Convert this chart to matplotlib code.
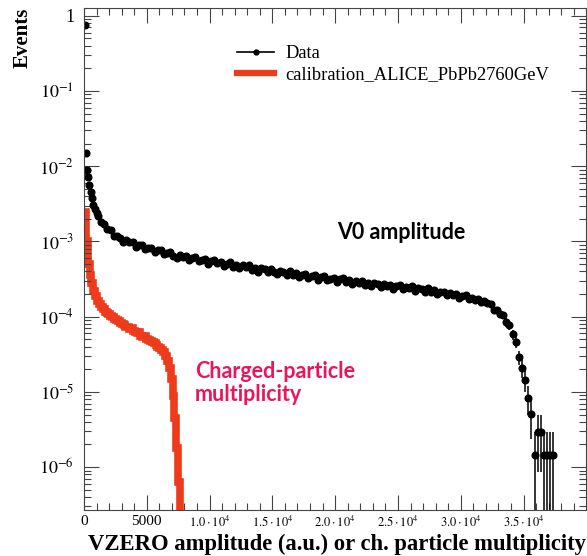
import numpy as np
import matplotlib
matplotlib.use("Agg")
import matplotlib.pyplot as plt
from matplotlib.lines import Line2D
from matplotlib.ticker import FixedLocator, MultipleLocator, LogLocator, NullFormatter

plt.rcParams["font.family"] = "serif"
plt.rcParams["font.serif"] = ["Liberation Serif", "DejaVu Serif"]
plt.rcParams["mathtext.fontset"] = "stix"

# --- data ---
# V0 amplitude, first bins (finer)
head_x = [100, 160, 260, 340, 420, 530, 610, 735, 860, 1000]
head_y = [0.76, 1.52e-2, 8.9e-3, 7.1e-3, 5.6e-3, 4.6e-3, 3.8e-3, 3.1e-3, 2.7e-3, 2.4e-3]

# V0 amplitude, bins of width 250 starting at 1000
body_start = 1000
body_width = 250
body_y = [
    2.19e-3, 1.79e-3, 1.69e-3, 1.47e-3, 1.40e-3, 1.18e-3, 1.19e-3, 1.10e-3, 9.7e-4, 1.05e-3,
    9.7e-4, 9.8e-4, 8.4e-4, 8.95e-4, 9.1e-4, 7.9e-4, 8.1e-4, 8.3e-4, 7.2e-4, 7.7e-4,
    7.65e-4, 6.8e-4, 6.95e-4, 7.26e-4, 6.46e-4, 6.0e-4, 6.6e-4, 6.2e-4, 6.4e-4, 5.6e-4,
    6.05e-4, 6.25e-4, 5.5e-4, 5.65e-4, 5.83e-4, 5.0e-4, 5.52e-4, 5.7e-4, 5.12e-4, 5.4e-4,
    4.74e-4, 5.0e-4, 5.27e-4, 4.63e-4, 4.89e-4, 4.4e-4, 4.85e-4, 4.56e-4, 4.82e-4, 4.23e-4,
    4.46e-4, 3.92e-4, 4.43e-4, 4.26e-4, 3.92e-4, 4.33e-4, 3.97e-4, 3.66e-4, 4.05e-4, 3.91e-4,
    3.6e-4, 3.99e-4, 3.59e-4, 3.8e-4, 3.35e-4, 3.54e-4, 3.75e-4, 3.3e-4, 3.49e-4, 3.53e-4,
    3.1e-4, 3.37e-4, 3.48e-4, 3.06e-4, 3.17e-4, 3.27e-4, 2.88e-4, 3.13e-4, 3.23e-4, 2.91e-4,
    3.08e-4, 2.71e-4, 3.0e-4, 2.83e-4, 3.0e-4, 2.64e-4, 2.79e-4, 2.52e-4, 2.79e-4, 2.69e-4,
    2.49e-4, 2.76e-4, 2.55e-4, 2.64e-4, 2.33e-4, 2.54e-4, 2.62e-4, 2.32e-4, 2.51e-4, 2.38e-4,
    2.52e-4, 2.17e-4, 2.41e-4, 2.33e-4, 2.16e-4, 2.39e-4, 2.15e-4, 2.26e-4, 1.98e-4, 2.14e-4,
    2.15e-4, 1.93e-4, 2.08e-4, 1.96e-4, 2.02e-4, 1.77e-4, 1.91e-4, 1.92e-4, 1.71e-4, 1.79e-4,
    1.67e-4, 1.74e-4, 1.55e-4, 1.62e-4, 1.52e-4, 1.47e-4, 1.24e-4, 1.22e-4, 1.09e-4, 1.04e-4,
    8.4e-5, 7.7e-5, 5.8e-5, 4.6e-5, 2.9e-5, 2.1e-5, 1.45e-5, 8.4e-6, 5.1e-6, 1.45e-6,
    2.9e-6, 2.9e-6, 1.45e-6, 1.45e-6, 1.45e-6, 1.45e-6,
]
one_event = 1.45e-6

# charged-particle multiplicity (calibration), bins of width 150
calib_width = 150
calib_y = [
    2.5e-3, 1.0e-3, 5.0e-4, 3.55e-4, 2.8e-4, 2.2e-4, 1.86e-4, 1.62e-4, 1.48e-4, 1.35e-4,
    1.26e-4, 1.17e-4, 1.12e-4, 1.07e-4, 1.02e-4, 9.8e-5, 9.3e-5, 8.9e-5, 8.7e-5, 8.3e-5,
    7.9e-5, 7.8e-5, 7.4e-5, 7.2e-5, 6.9e-5, 7.1e-5, 6.5e-5, 6.3e-5, 6.0e-5, 6.2e-5,
    5.6e-5, 5.4e-5, 5.5e-5, 5.0e-5, 4.9e-5, 4.7e-5, 4.6e-5, 4.4e-5, 4.2e-5, 4.0e-5,
    3.8e-5, 3.6e-5, 3.4e-5, 3.0e-5, 2.6e-5, 2.1e-5, 1.5e-5, 8.9e-6, 4.5e-6, 1.8e-6,
    6.3e-7, 2.0e-7,
]

x_ticks = [0, 5000, 10000, 15000, 20000, 25000, 30000, 35000]
x_tick_labels = ["0", "5000", r"$1.0\cdot10^4$", r"$1.5\cdot10^4$", r"$2.0\cdot10^4$",
                 r"$2.5\cdot10^4$", r"$3.0\cdot10^4$", r"$3.5\cdot10^4$"]
y_ticks = [1, 1e-1, 1e-2, 1e-3, 1e-4, 1e-5, 1e-6]
y_tick_labels = ["1", r"$10^{-1}$", r"$10^{-2}$", r"$10^{-3}$", r"$10^{-4}$", r"$10^{-5}$", r"$10^{-6}$"]

# --- build arrays ---
body_x = body_start + body_width * (np.arange(len(body_y)) + 0.5)
data_x = np.concatenate([head_x, body_x])
data_y = np.concatenate([head_y, body_y])
data_xerr = np.concatenate([np.full(len(head_x), 50.0), np.full(len(body_y), body_width / 2)])
data_yerr = np.sqrt(data_y * one_event)
calib_edges = calib_width * np.arange(len(calib_y) + 1)

fig = plt.figure(figsize=(5.87, 5.56), dpi=100)
ax = fig.add_axes([0.143, 0.083, 0.856, 0.903])

red = "#ee3b1c"
ax.stairs(calib_y, calib_edges, color=red, lw=5.5, baseline=None)
ax.errorbar(data_x, data_y, xerr=data_xerr, yerr=data_yerr, fmt="o", color="k",
            ms=4.8, elinewidth=1.1, capsize=0)

ax.set_yscale("log")
ax.set_xlim(0, 40000)
ax.set_ylim(2.7e-7, 1.28)

ax.xaxis.set_major_locator(FixedLocator(x_ticks))
ax.set_xticklabels(x_tick_labels)
ax.xaxis.set_minor_locator(MultipleLocator(1000))
ax.yaxis.set_major_locator(FixedLocator(y_ticks))
ax.set_yticklabels(y_tick_labels)
ax.yaxis.set_minor_locator(LogLocator(base=10, subs=np.arange(2, 10)))
ax.yaxis.set_minor_formatter(NullFormatter())

ax.tick_params(which="both", direction="in", top=True, right=True, width=0.8, color="#444444")
ax.tick_params(which="major", length=11, labelsize=11)
ax.tick_params(axis="y", which="major", labelsize=13, pad=7)
ax.tick_params(which="minor", length=5)
for i, lab in enumerate(ax.get_xticklabels()):
    if i >= 2:
        lab.set_fontsize(9)
for s in ax.spines.values():
    s.set_color("#444444")
    s.set_linewidth(0.8)

ax.set_xlabel("VZERO amplitude (a.u.) or ch. particle multiplicity", loc="right",
              fontsize=16.3, fontweight="bold", labelpad=3)
ax.set_ylabel("Events", loc="top", fontsize=15, fontweight="bold", labelpad=5)

handles = [Line2D([], [], color="k", marker="o", ms=3.5, lw=1.2),
           Line2D([], [], color=red, lw=4.5)]
ax.legend(handles, ["Data", "calibration_ALICE_PbPb2760GeV"], loc="upper left",
          bbox_to_anchor=(0.272, 0.958), frameon=False, fontsize=13.3,
          handlelength=2.0, handletextpad=0.6, labelspacing=0.2)

ax.text(0.503, 0.552, "V0 amplitude", transform=ax.transAxes, fontsize=15.5,
        fontweight="bold", family="Lato", va="center")
ax.text(0.221, 0.253, "Charged-particle\nmultiplicity", transform=ax.transAxes,
        fontsize=15.5, fontweight="bold", family="Lato", color="#e8175d",
        va="center", linespacing=1.1)

fig.savefig("out.png", dpi=100)
